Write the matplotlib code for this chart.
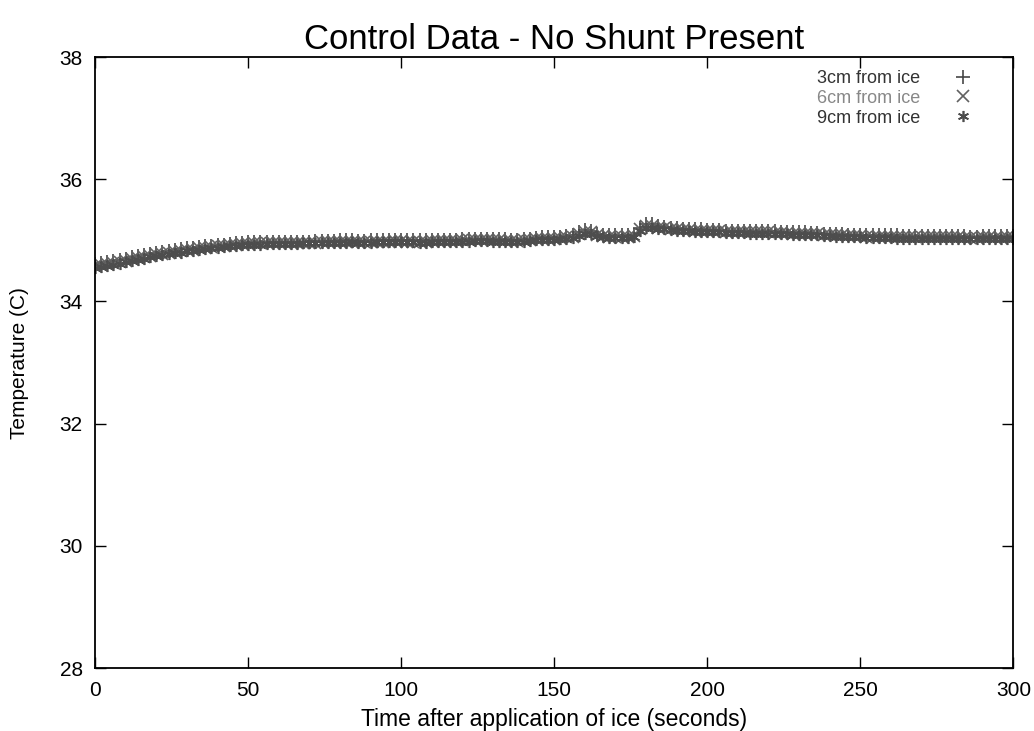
import matplotlib
matplotlib.use("Agg")
import matplotlib.pyplot as plt

plt.rcParams['font.family'] = ['Liberation Sans', 'DejaVu Sans']

time_s = list(range(0, 301, 2))

temp_3cm = [
    34.62, 34.63, 34.65, 34.66, 34.68, 34.70, 34.72, 34.74, 34.76, 34.78,
    34.80, 34.81, 34.83, 34.84, 34.86, 34.87, 34.88, 34.89, 34.90, 34.91,
    34.92, 34.93, 34.94, 34.95, 34.96, 34.97, 34.97, 34.98, 34.98, 34.98,
    34.98, 34.97, 34.97, 34.98, 34.98, 34.98, 34.99, 34.99, 34.99, 34.99,
    35.00, 35.00, 35.00, 34.99, 34.99, 35.00, 35.00, 35.00, 35.01, 35.01,
    35.01, 35.01, 35.00, 35.00, 35.00, 35.01, 35.01, 35.01, 35.01, 35.01,
    35.02, 35.02, 35.03, 35.03, 35.03, 35.03, 35.02, 35.02, 35.01, 35.01,
    35.02, 35.03, 35.04, 35.05, 35.05, 35.06, 35.06, 35.07, 35.08, 35.13,
    35.17, 35.15, 35.11, 35.09, 35.08, 35.08, 35.08, 35.08, 35.09, 35.21,
    35.27, 35.26, 35.24, 35.22, 35.21, 35.20, 35.19, 35.19, 35.18, 35.18,
    35.17, 35.17, 35.17, 35.16, 35.16, 35.16, 35.16, 35.16, 35.15, 35.15,
    35.15, 35.15, 35.14, 35.14, 35.14, 35.13, 35.13, 35.12, 35.12, 35.11,
    35.11, 35.10, 35.10, 35.09, 35.09, 35.09, 35.08, 35.08, 35.08, 35.08,
    35.08, 35.08, 35.07, 35.07, 35.07, 35.07, 35.07, 35.07, 35.07, 35.07,
    35.07, 35.07, 35.07, 35.06, 35.06, 35.07, 35.07, 35.07, 35.07, 35.07,
    35.07,
]

temp_6cm = [
    34.58, 34.60, 34.61, 34.63, 34.65, 34.67, 34.69, 34.71, 34.73, 34.75,
    34.77, 34.78, 34.80, 34.81, 34.83, 34.84, 34.85, 34.87, 34.88, 34.89,
    34.90, 34.91, 34.92, 34.93, 34.94, 34.94, 34.95, 34.95, 34.95, 34.96,
    34.96, 34.95, 34.95, 34.95, 34.96, 34.96, 34.96, 34.97, 34.97, 34.97,
    34.97, 34.98, 34.98, 34.97, 34.97, 34.98, 34.98, 34.98, 34.98, 34.99,
    34.99, 34.98, 34.98, 34.98, 34.98, 34.99, 34.99, 34.99, 34.99, 34.99,
    35.00, 35.00, 35.01, 35.01, 35.01, 35.00, 35.00, 34.99, 34.99, 34.99,
    35.00, 35.01, 35.02, 35.02, 35.03, 35.03, 35.04, 35.05, 35.06, 35.10,
    35.14, 35.13, 35.09, 35.07, 35.06, 35.06, 35.06, 35.06, 35.07, 35.18,
    35.24, 35.23, 35.21, 35.20, 35.19, 35.18, 35.17, 35.17, 35.16, 35.16,
    35.15, 35.15, 35.15, 35.14, 35.14, 35.14, 35.14, 35.13, 35.13, 35.13,
    35.13, 35.12, 35.12, 35.12, 35.11, 35.11, 35.11, 35.10, 35.10, 35.09,
    35.09, 35.08, 35.08, 35.07, 35.07, 35.07, 35.06, 35.06, 35.06, 35.06,
    35.06, 35.05, 35.05, 35.05, 35.05, 35.05, 35.05, 35.05, 35.05, 35.05,
    35.05, 35.05, 35.04, 35.04, 35.04, 35.05, 35.05, 35.04, 35.04, 35.05,
    35.05,
]

temp_9cm = [
    34.55, 34.56, 34.58, 34.60, 34.62, 34.64, 34.66, 34.68, 34.70, 34.72,
    34.74, 34.76, 34.77, 34.79, 34.80, 34.82, 34.83, 34.84, 34.86, 34.87,
    34.88, 34.89, 34.90, 34.91, 34.92, 34.92, 34.93, 34.93, 34.94, 34.94,
    34.94, 34.94, 34.94, 34.94, 34.95, 34.95, 34.95, 34.95, 34.96, 34.96,
    34.96, 34.96, 34.97, 34.96, 34.96, 34.96, 34.97, 34.97, 34.97, 34.97,
    34.97, 34.97, 34.97, 34.96, 34.96, 34.97, 34.97, 34.97, 34.97, 34.98,
    34.98, 34.98, 34.99, 34.99, 34.99, 34.98, 34.98, 34.97, 34.97, 34.97,
    34.98, 34.99, 35.00, 35.00, 35.01, 35.01, 35.02, 35.03, 35.04, 35.07,
    35.11, 35.10, 35.07, 35.05, 35.04, 35.04, 35.04, 35.04, 35.05, 35.15,
    35.21, 35.20, 35.19, 35.18, 35.17, 35.16, 35.15, 35.15, 35.14, 35.14,
    35.13, 35.13, 35.13, 35.12, 35.12, 35.12, 35.12, 35.11, 35.11, 35.11,
    35.11, 35.10, 35.10, 35.10, 35.09, 35.09, 35.09, 35.08, 35.08, 35.07,
    35.07, 35.06, 35.06, 35.05, 35.05, 35.05, 35.04, 35.04, 35.04, 35.04,
    35.04, 35.03, 35.03, 35.03, 35.03, 35.03, 35.03, 35.03, 35.03, 35.03,
    35.03, 35.03, 35.02, 35.02, 35.02, 35.03, 35.03, 35.02, 35.02, 35.03,
    35.03,
]

series_labels = ["3cm from ice", "6cm from ice", "9cm from ice"]
x_ticks = [0, 50, 100, 150, 200, 250, 300]
y_ticks = [28, 30, 32, 34, 36, 38]

fig = plt.figure(figsize=(10.34, 7.31), dpi=100)
ax = fig.add_axes([0.092, 0.086, 0.888, 0.836])

ax.plot(time_s, temp_3cm, linestyle='none', marker='+', markersize=10,
        markeredgewidth=1.2, color='#474747', label=series_labels[0])
ax.plot(time_s, temp_6cm, linestyle='none', marker='x', markersize=8,
        markeredgewidth=1.2, color='#616161', label=series_labels[1])
ax.plot(time_s, temp_9cm, linestyle='none', marker=(6, 2, 0), markersize=8,
        markeredgewidth=1.2, color='#4d4d4d', label=series_labels[2])

ax.set_xlim(0, 300)
ax.set_ylim(28, 38)
ax.set_xticks(x_ticks)
ax.set_yticks(y_ticks)
ax.tick_params(direction='in', length=8, width=1, top=True, right=True,
               labelsize=15, pad=9)
for sp in ax.spines.values():
    sp.set_linewidth(1.3)

ax.set_title("Control Data - No Shunt Present", fontsize=25, pad=6)
ax.set_xlabel("Time after application of ice (seconds)", fontsize=16.5, labelpad=6)
ax.set_ylabel("Temperature (C)", fontsize=15, labelpad=22)

leg = ax.legend(loc='upper right', bbox_to_anchor=(0.960, 0.979),
                frameon=False, markerfirst=False, fontsize=13,
                handletextpad=1.6, labelspacing=0.16, borderaxespad=0.0,
                borderpad=0.0, handlelength=1.5)
text_colors = ['#333333', '#888888', '#333333']
for t, c in zip(leg.get_texts(), text_colors):
    t.set_color(c)

fig.savefig("out.png", dpi=100)
